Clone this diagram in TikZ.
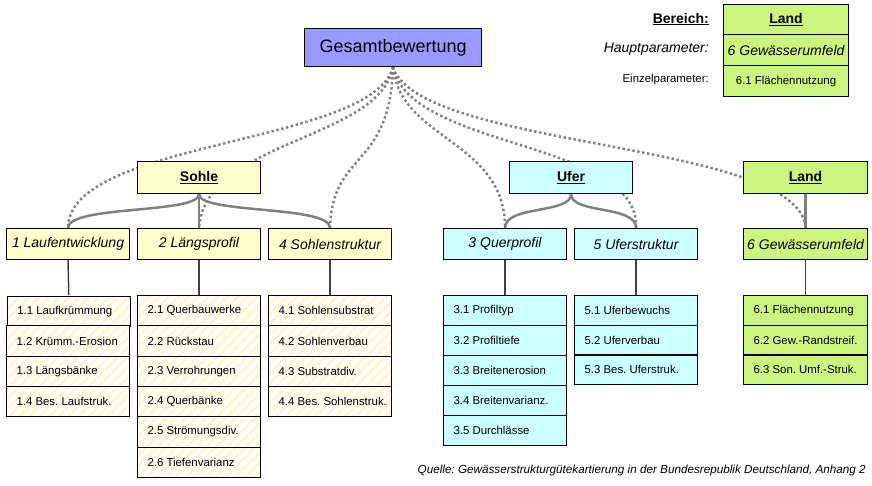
\documentclass[tikz,border=0pt]{standalone}
\usepackage{fontspec}
\setmainfont{Liberation Sans}
\usetikzlibrary{patterns.meta}
\pgfdeclarelayer{bg}
\pgfsetlayers{bg,main}
\definecolor{gesc}{RGB}{153,153,255}
\definecolor{sohc}{RGB}{255,255,204}
\definecolor{ufec}{RGB}{204,255,255}
\definecolor{lanc}{RGB}{204,245,128}
\definecolor{stripec}{RGB}{250,246,200}
\definecolor{conc}{RGB}{128,128,128}
\definecolor{vlc}{RGB}{64,64,64}
\newcommand{\lbox}[1]{\makebox[103pt][l]{#1}}
\frenchspacing
\begin{document}
\begin{tikzpicture}[x=1pt,y=-1pt,
  box/.style={draw=black, line width=1.1pt, inner sep=0pt, anchor=north west},
  grp/.style={box, minimum width=123pt, minimum height=32pt, font=\fontsize{14}{16}\selectfont\bfseries},
  lvl/.style={box, minimum width=123pt, minimum height=31pt, font=\fontsize{14}{16}\selectfont\itshape},
  sub/.style={box, minimum width=123pt, inner xsep=10pt, minimum height=30.3pt, font=\fontsize{11.4}{13}\selectfont},
  ysub/.style={sub, preaction={fill=white}, pattern={Lines[angle=45,distance=7pt,line width=2.5pt]}, pattern color=stripec},
  usub/.style={sub, fill=ufec},
  lsub/.style={sub, fill=lanc, minimum width=124pt},
  dotc/.style={draw=conc, line width=2.5pt, dash pattern=on 2.4pt off 2.6pt},
  brace/.style={draw=conc, line width=2.5pt},
  vline/.style={draw=vlc, line width=1.5pt},
  lab/.style={anchor=east, inner sep=0pt}]
\useasboundingbox (0,0) rectangle (872,485);

% top node
\node[box, fill=gesc, minimum width=177pt, minimum height=38pt, font=\fontsize{18}{20}\selectfont] (g) at (304,28) {Gesamtbewertung};

% groups
\node[grp, fill=sohc] (sohle) at (137,161) {\underline{Sohle}};
\node[grp, fill=ufec] (ufer) at (509,161) {\underline{Ufer}};
\node[grp, fill=lanc, minimum width=124pt] (land) at (743,161) {\underline{Land}};

% main parameters
\node[lvl, fill=sohc] (l1) at (6,228) {1 Laufentwicklung};
\node[lvl, fill=sohc] (l2) at (137,228) {2 Längsprofil};
\node[lvl, fill=sohc] (l4) at (268,228) {4 Sohlenstruktur};
\node[lvl, fill=ufec] (l3) at (443,228) {3 Querprofil};
\node[lvl, fill=ufec] (l5) at (574,228) {5 Uferstruktur};
\node[lvl, fill=lanc, minimum width=124pt] (l6) at (743,228) {6 Gewässerumfeld};

% single parameters
\foreach \t [count=\i] in {1.1 Laufkrümmung, 1.2 Krümm.-Erosion, 1.3 Längsbänke, 1.4 Bes. Laufstruk.}
  \node[ysub] (a\i) at (6,{295+(\i-1)*30.3}) {\lbox{\t}};
\foreach \t [count=\i] in {2.1 Querbauwerke, 2.2 Rückstau, 2.3 Verrohrungen, 2.4 Querbänke, 2.5 Strömungsdiv., 2.6 Tiefenvarianz}
  \node[ysub] (b\i) at (137,{295+(\i-1)*30.3}) {\lbox{\t}};
\foreach \t [count=\i] in {4.1 Sohlensubstrat, 4.2 Sohlenverbau, 4.3 Substratdiv., 4.4 Bes. Sohlenstruk.}
  \node[ysub] (d\i) at (268,{295+(\i-1)*30.3}) {\lbox{\t}};
\foreach \t [count=\i] in {3.1 Profiltyp, 3.2 Profiltiefe, 3.3 Breitenerosion, 3.4 Breitenvarianz., 3.5 Durchlässe}
  \node[usub] (c\i) at (443,{295+(\i-1)*30}) {\lbox{\t}};
\foreach \t [count=\i] in {5.1 Uferbewuchs, 5.2 Uferverbau, 5.3 Bes. Uferstruk.}
  \node[usub, minimum height=29.7pt] (e\i) at (574,{295+(\i-1)*29.7}) {\lbox{\t}};
\foreach \t [count=\i] in {6.1 Flächennutzung, 6.2 Gew.-Randstreif., 6.3 Son. Umf.-Struk.}
  \node[lsub, minimum height=29.7pt] (f\i) at (743,{295+(\i-1)*29.7}) {\makebox[104pt][l]{\t}};

% legend
\node[box, fill=lanc, minimum width=125pt, minimum height=30pt, font=\fontsize{14}{16}\selectfont\bfseries] (lg1) at (723,4) {\underline{Land}};
\node[box, fill=lanc, minimum width=125pt, minimum height=31pt, font=\fontsize{14}{16}\selectfont\itshape] (lg2) at (723,34) {6 Gewässerumfeld};
\node[box, fill=lanc, minimum width=125pt, minimum height=31pt, font=\fontsize{11.4}{13}\selectfont] (lg3) at (723,65) {6.1 Flächennutzung};
\node[lab, font=\fontsize{14}{16}\selectfont\bfseries] (t1) at (709,19) {\underline{Bereich:}};
\node[lab, font=\fontsize{14}{16}\selectfont\itshape] (t2) at (709,49) {Hauptparameter:};
\node[lab, font=\fontsize{11.4}{13}\selectfont] (t3) at (709,80) {Einzelparameter:};

% source
\node[lab, font=\fontsize{11.7}{13}\selectfont\itshape] (src) at (866,470) {Quelle: Gewässerstrukturgütekartierung in der Bundesrepublik Deutschland, Anhang 2};

\begin{pgfonlayer}{bg}
  % dotted links from overall rating
  \draw[dotc] (g.south) .. controls (372,145) and (68,140) .. (l1.north);
  \draw[dotc] (g.south) .. controls (380,140) and (205,140) .. (l2.north);
  \draw[dotc] (g.south) .. controls (390,170) and (332,150) .. (l4.north);
  \draw[dotc] (g.south) .. controls (400,140) and (505,140) .. (l3.north);
  \draw[dotc] (g.south) .. controls (410,150) and (640,140) .. (l5.north);
  \draw[dotc] (g.south) .. controls (420,150) and (800,140) .. (l6.north);
  % braces
  \draw[brace] (sohle.south) .. controls +(0,20) and +(0,-23) .. (l1.north);
  \draw[brace] (sohle.south) -- (l2.north);
  \draw[brace] (sohle.south) .. controls +(0,20) and +(0,-23) .. (l4.north);
  \draw[brace] (ufer.south) .. controls +(0,20) and +(0,-23) .. (l3.north);
  \draw[brace] (ufer.south) .. controls +(0,20) and +(0,-23) .. (l5.north);
  \draw[brace] (land.south) -- (l6.north);
  % vertical links to single parameters
  \draw[vline] (l1.south) -- (a1.north);
  \draw[vline] (l2.south) -- (b1.north);
  \draw[vline] (l4.south) -- (d1.north);
  \draw[vline] (l3.south) -- (c1.north);
  \draw[vline] (l5.south) -- (e1.north);
  \draw[vline] (l6.south) -- (f1.north);
\end{pgfonlayer}
\end{tikzpicture}
\end{document}
